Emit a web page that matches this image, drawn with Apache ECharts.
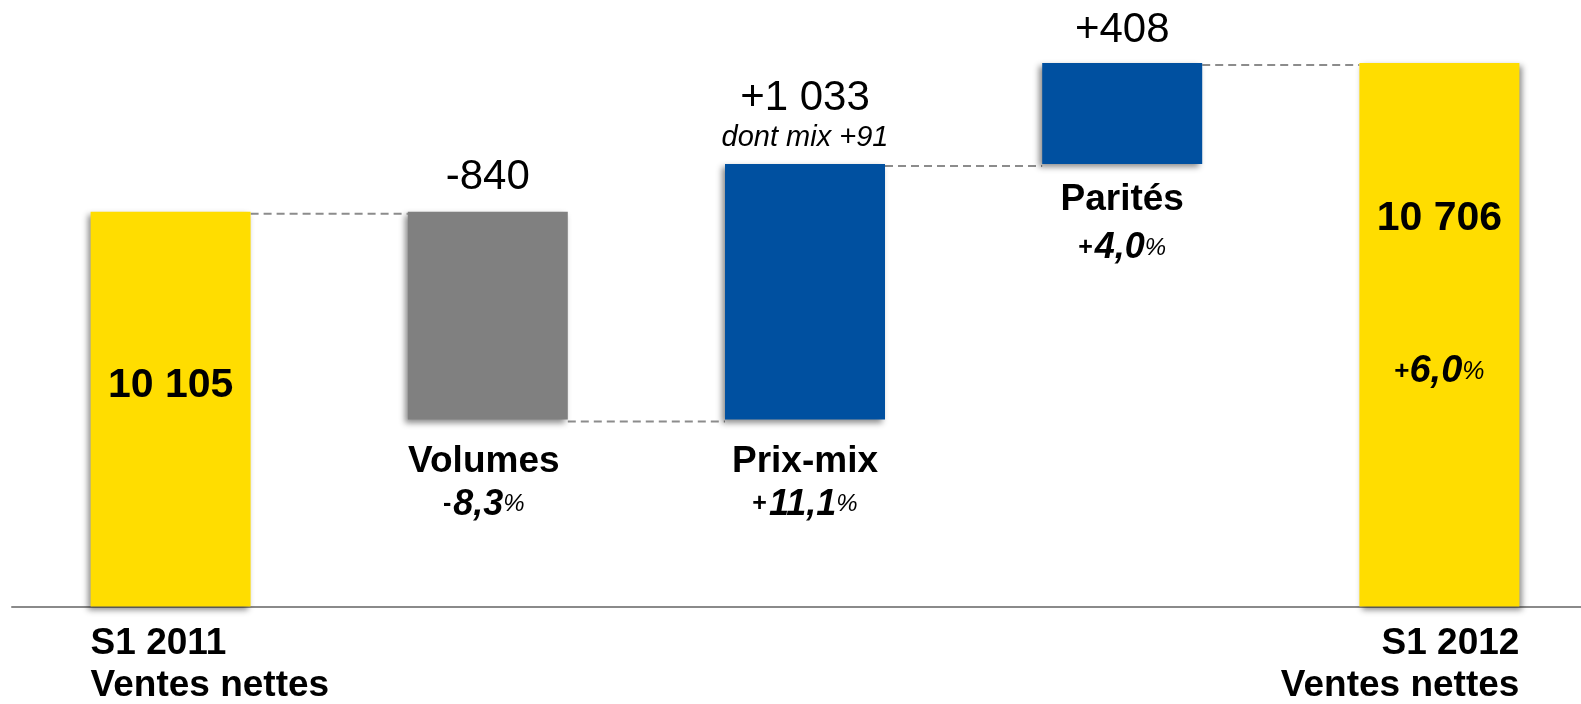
<!DOCTYPE html>
<html>
<head>
<meta charset="utf-8">
<script src="https://cdn.jsdelivr.net/npm/echarts@6/dist/echarts.min.js"></script>
<style>
html,body{margin:0;padding:0;background:#fff}
#main{width:1581px;height:704px}
</style>
</head>
<body>
<div id="main"></div>
<script>
// values
var categories = ['S1 2011', 'Volumes', 'Prix-mix', 'Parités', 'S1 2012']
var startTotal = 10105
var endTotal = 10706
var deltas = [-840, 1033, 408]
var deltaLabels = ['-840', '+1 033', '+408']
var deltaPcts = [['-', '8,3'], ['+', '11,1'], ['+', '4,0']]
var totalPct = ['+', '6,0']
var axisLabels = ['S1 2011\nVentes nettes', '', '', '', 'S1 2012\nVentes nettes']

var FONT = 'Liberation Sans, Arial, sans-serif'
var YELLOW = '#FFDD00', GREY = '#808080', BLUE = '#0050A0'
var BAR_W = 160

function fmt(n){
	return String(n).replace(/\B(?=(\d{3})+(?!\d))/g, ' ')
}

// build waterfall: base (hidden) + visible part
var base = [0], vis = [startTotal], levels = [startTotal]
var run = startTotal
deltas.forEach(function(d){
	var next = run + d
	base.push(Math.min(run, next))
	vis.push(Math.abs(d))
	run = next
	levels.push(run)
})
base.push(0)
vis.push(endTotal)

var shadow = {shadowBlur: 6, shadowColor: 'rgba(0,0,0,0.45)', shadowOffsetX: -3, shadowOffsetY: 3}

function pctRich(lh){
	return {
		t: {fontSize: 37, fontWeight: 'bold', lineHeight: 42, fontFamily: FONT, color: '#000'},
		s: {fontSize: 25, fontWeight: 'bold', lineHeight: lh, fontFamily: FONT, color: '#000', padding: [0, 2, 0, 0]},
		n: {fontSize: 36, fontWeight: 'bold', fontStyle: 'italic', lineHeight: lh, fontFamily: FONT, color: '#000'},
		c: {fontSize: 24, fontStyle: 'italic', lineHeight: lh, fontFamily: FONT, color: '#000'}
	}
}

var belowDist = [21, 21, 15]
var belowLh = [44, 44, 54]
var belowOff = [-4, 0, 0]
var aboveDist = [12, 9, 10]

var baseData = base.map(function(v, i){
	var item = {value: v, itemStyle: {color: 'rgba(0,0,0,0)'}}
	if(i >= 1 && i <= 3){
		var p = deltaPcts[i - 1]
		item.label = {
			show: true, position: 'insideTop', distance: belowDist[i - 1], offset: [belowOff[i - 1], 0],
			formatter: '{t|' + categories[i] + '}\n{s|' + p[0] + '}{n|' + p[1] + '}{c|%}',
			rich: pctRich(belowLh[i - 1])
		}
	}
	return item
})

var visData = vis.map(function(v, i){
	var color = i === 0 || i === 4 ? YELLOW : (deltas[i - 1] < 0 ? GREY : BLUE)
	var item = {value: v, itemStyle: Object.assign({color: color}, shadow)}
	if(i === 4) item.itemStyle.shadowOffsetX = 3
	if(i === 0){
		item.label = {show: true, position: 'inside', offset: [0, -23], formatter: fmt(startTotal),
			fontSize: 41, fontWeight: 'bold', fontFamily: FONT, color: '#000'}
	}else if(i === 4){
		item.label = {show: true, position: 'insideTop', distance: 134,
			formatter: '{a|' + fmt(endTotal) + '}\n{g| }\n{s|' + totalPct[0] + '}{n|' + totalPct[1] + '}{c|%}',
			rich: {
				a: {fontSize: 41, fontWeight: 'bold', lineHeight: 44, fontFamily: FONT, color: '#000'},
				g: {fontSize: 10, lineHeight: 109},
				s: {fontSize: 26, fontWeight: 'bold', lineHeight: 44, fontFamily: FONT, color: '#000'},
				n: {fontSize: 38, fontWeight: 'bold', fontStyle: 'italic', lineHeight: 44, fontFamily: FONT, color: '#000'},
				c: {fontSize: 25, fontStyle: 'italic', lineHeight: 44, fontFamily: FONT, color: '#000'}
			}}
	}else{
		var txt = '{a|' + deltaLabels[i - 1] + '}'
		if(i === 2) txt += '\n{b|dont mix +91}'
		item.label = {show: true, position: 'top', distance: aboveDist[i - 1], formatter: txt,
			rich: {
				a: {fontSize: 42, lineHeight: 44, fontFamily: FONT, color: '#000'},
				b: {fontSize: 29, fontStyle: 'italic', lineHeight: 34, fontFamily: FONT, color: '#000'}
			}}
	}
	return item
})

// dashed connectors: from right edge of bar k to left edge of bar k+1
var connData = levels.map(function(v, k){ return [k, v] })

var charts = echarts.init(document.getElementById('main'))
charts.setOption({
	animation: false,
	grid: {left: 12, width: 1586, top: 0, bottom: 97.5, outerBoundsMode: 'none', containLabel: false},
	xAxis: {
		type: 'category', data: categories,
		axisLine: {lineStyle: {color: '#8a8a8a', width: 2}},
		axisTick: {show: false},
		axisLabel: {
			interval: 0, margin: 16,
			formatter: function(v, i){
				var t = axisLabels[i]
				if(!t) return ''
				var tag = i === 0 ? 'l' : 'r'
				return t.split('\n').map(function(s){ return '{' + tag + '|' + s + '}' }).join('\n')
			},
			rich: {
				l: {width: BAR_W, align: 'left', fontSize: 37, fontWeight: 'bold', lineHeight: 42, fontFamily: FONT, color: '#000'},
				r: {width: BAR_W, align: 'right', fontSize: 37, fontWeight: 'bold', lineHeight: 42, fontFamily: FONT, color: '#000'}
			}
		}
	},
	yAxis: {type: 'value', min: 8510, max: 10960, show: false, splitLine: {show: false}},
	series: [
		{
			type: 'custom', z: 1, silent: true, data: connData,
			encode: {x: 0, y: 1},
			renderItem: function(params, api){
				var a = api.coord([api.value(0), api.value(1)])
				var b = api.coord([api.value(0) + 1, api.value(1)])
				return {
					type: 'line',
					shape: {x1: a[0] + BAR_W / 2, y1: a[1] + 2, x2: b[0] - BAR_W / 2, y2: b[1] + 2},
					style: {stroke: '#8c8c8c', lineWidth: 2, lineDash: [8, 5]}
				}
			}
		},
		{type: 'bar', stack: 'w', z: 2, barWidth: BAR_W, data: baseData, silent: true},
		{type: 'bar', stack: 'w', z: 3, barWidth: BAR_W, data: visData}
	]
})
</script>
</body>
</html>
